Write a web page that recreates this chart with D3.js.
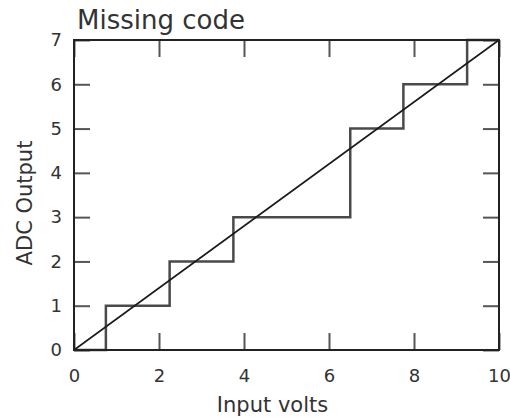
<!DOCTYPE html>
<html>
<head>
<meta charset="utf-8">
<script src="https://cdn.jsdelivr.net/npm/d3@7"></script>
<style>
  body { margin: 0; background: #fff; }
  text { font-family: "DejaVu Sans", sans-serif; fill: #333; }
</style>
</head>
<body>
<script>
// data
var stepX = [0, 0.75, 2.25, 3.75, 6.5, 7.75, 9.25, 10];   // input volts where the code changes
var stepCode = [0, 1, 2, 3, 5, 6, 7, 7];                  // ADC code after each change (4 is missing)
var idealX = [0, 10];
var idealY = [0, 7];
var xTicks = [0, 2, 4, 6, 8, 10];
var yTicks = [0, 1, 2, 3, 4, 5, 6, 7];

const margins = { left: 74, right: 11, top: 40, bottom: 70 };
const width = 510, height = 420;
const w = width - margins.left - margins.right;
const h = height - margins.top - margins.bottom;

var xScale = d3.scaleLinear().domain([0, 10]).range([0, w]);
var yScale = d3.scaleLinear().domain([0, 7]).range([h, 0]);

var svg = d3.select("body").append("svg")
    .attr("width", width)
    .attr("height", height);

var g = svg.append("g").attr("transform", "translate(" + margins.left + "," + margins.top + ")");

// ticks all around, pointing inward
function styleAxis(sel) {
    sel.select(".domain").remove();
    sel.selectAll(".tick line").attr("stroke", "#555").attr("stroke-width", 2);
    sel.selectAll(".tick text").style("font-size", "18px").attr("fill", "#3a3a3a");
}

g.append("g").attr("transform", "translate(0," + h + ")")
    .call(d3.axisBottom(xScale).tickValues(xTicks).tickSize(-17).tickPadding(19).tickFormat(d3.format("d")))
    .call(styleAxis);
g.append("g")
    .call(d3.axisTop(xScale).tickValues(xTicks).tickSize(-17).tickFormat(""))
    .call(styleAxis);
g.append("g")
    .call(d3.axisLeft(yScale).tickValues(yTicks).tickSize(-16).tickPadding(12).tickFormat(d3.format("d")))
    .call(styleAxis);
g.append("g").attr("transform", "translate(" + w + ",0)")
    .call(d3.axisRight(yScale).tickValues(yTicks).tickSize(-16).tickFormat(""))
    .call(styleAxis);

// staircase (actual converter)
var steps = stepX.map((x, i) => [x, stepCode[i]]);
g.append("path")
    .datum(steps)
    .attr("d", d3.line().x(d => xScale(d[0])).y(d => yScale(d[1])).curve(d3.curveStepAfter))
    .attr("fill", "none")
    .attr("stroke", "#4a4a4a")
    .attr("stroke-width", 2.5);

// ideal straight line
g.append("path")
    .datum(idealX.map((x, i) => [x, idealY[i]]))
    .attr("d", d3.line().x(d => xScale(d[0])).y(d => yScale(d[1])))
    .attr("fill", "none")
    .attr("stroke", "#1a1a1a")
    .attr("stroke-width", 1.6);

// frame
g.append("rect")
    .attr("width", w).attr("height", h)
    .attr("fill", "none")
    .attr("stroke", "#222")
    .attr("stroke-width", 2);

// titles
svg.append("text")
    .text("Missing code")
    .attr("x", 77).attr("y", 29)
    .style("font-size", "26px");

svg.append("text")
    .text("Input volts")
    .attr("x", margins.left + w / 2 - 14).attr("y", 412)
    .attr("text-anchor", "middle")
    .style("font-size", "21px");

svg.append("text")
    .text("ADC Output")
    .attr("transform", "translate(32,203) rotate(-90)")
    .attr("text-anchor", "middle")
    .style("font-size", "21px");
</script>
</body>
</html>
